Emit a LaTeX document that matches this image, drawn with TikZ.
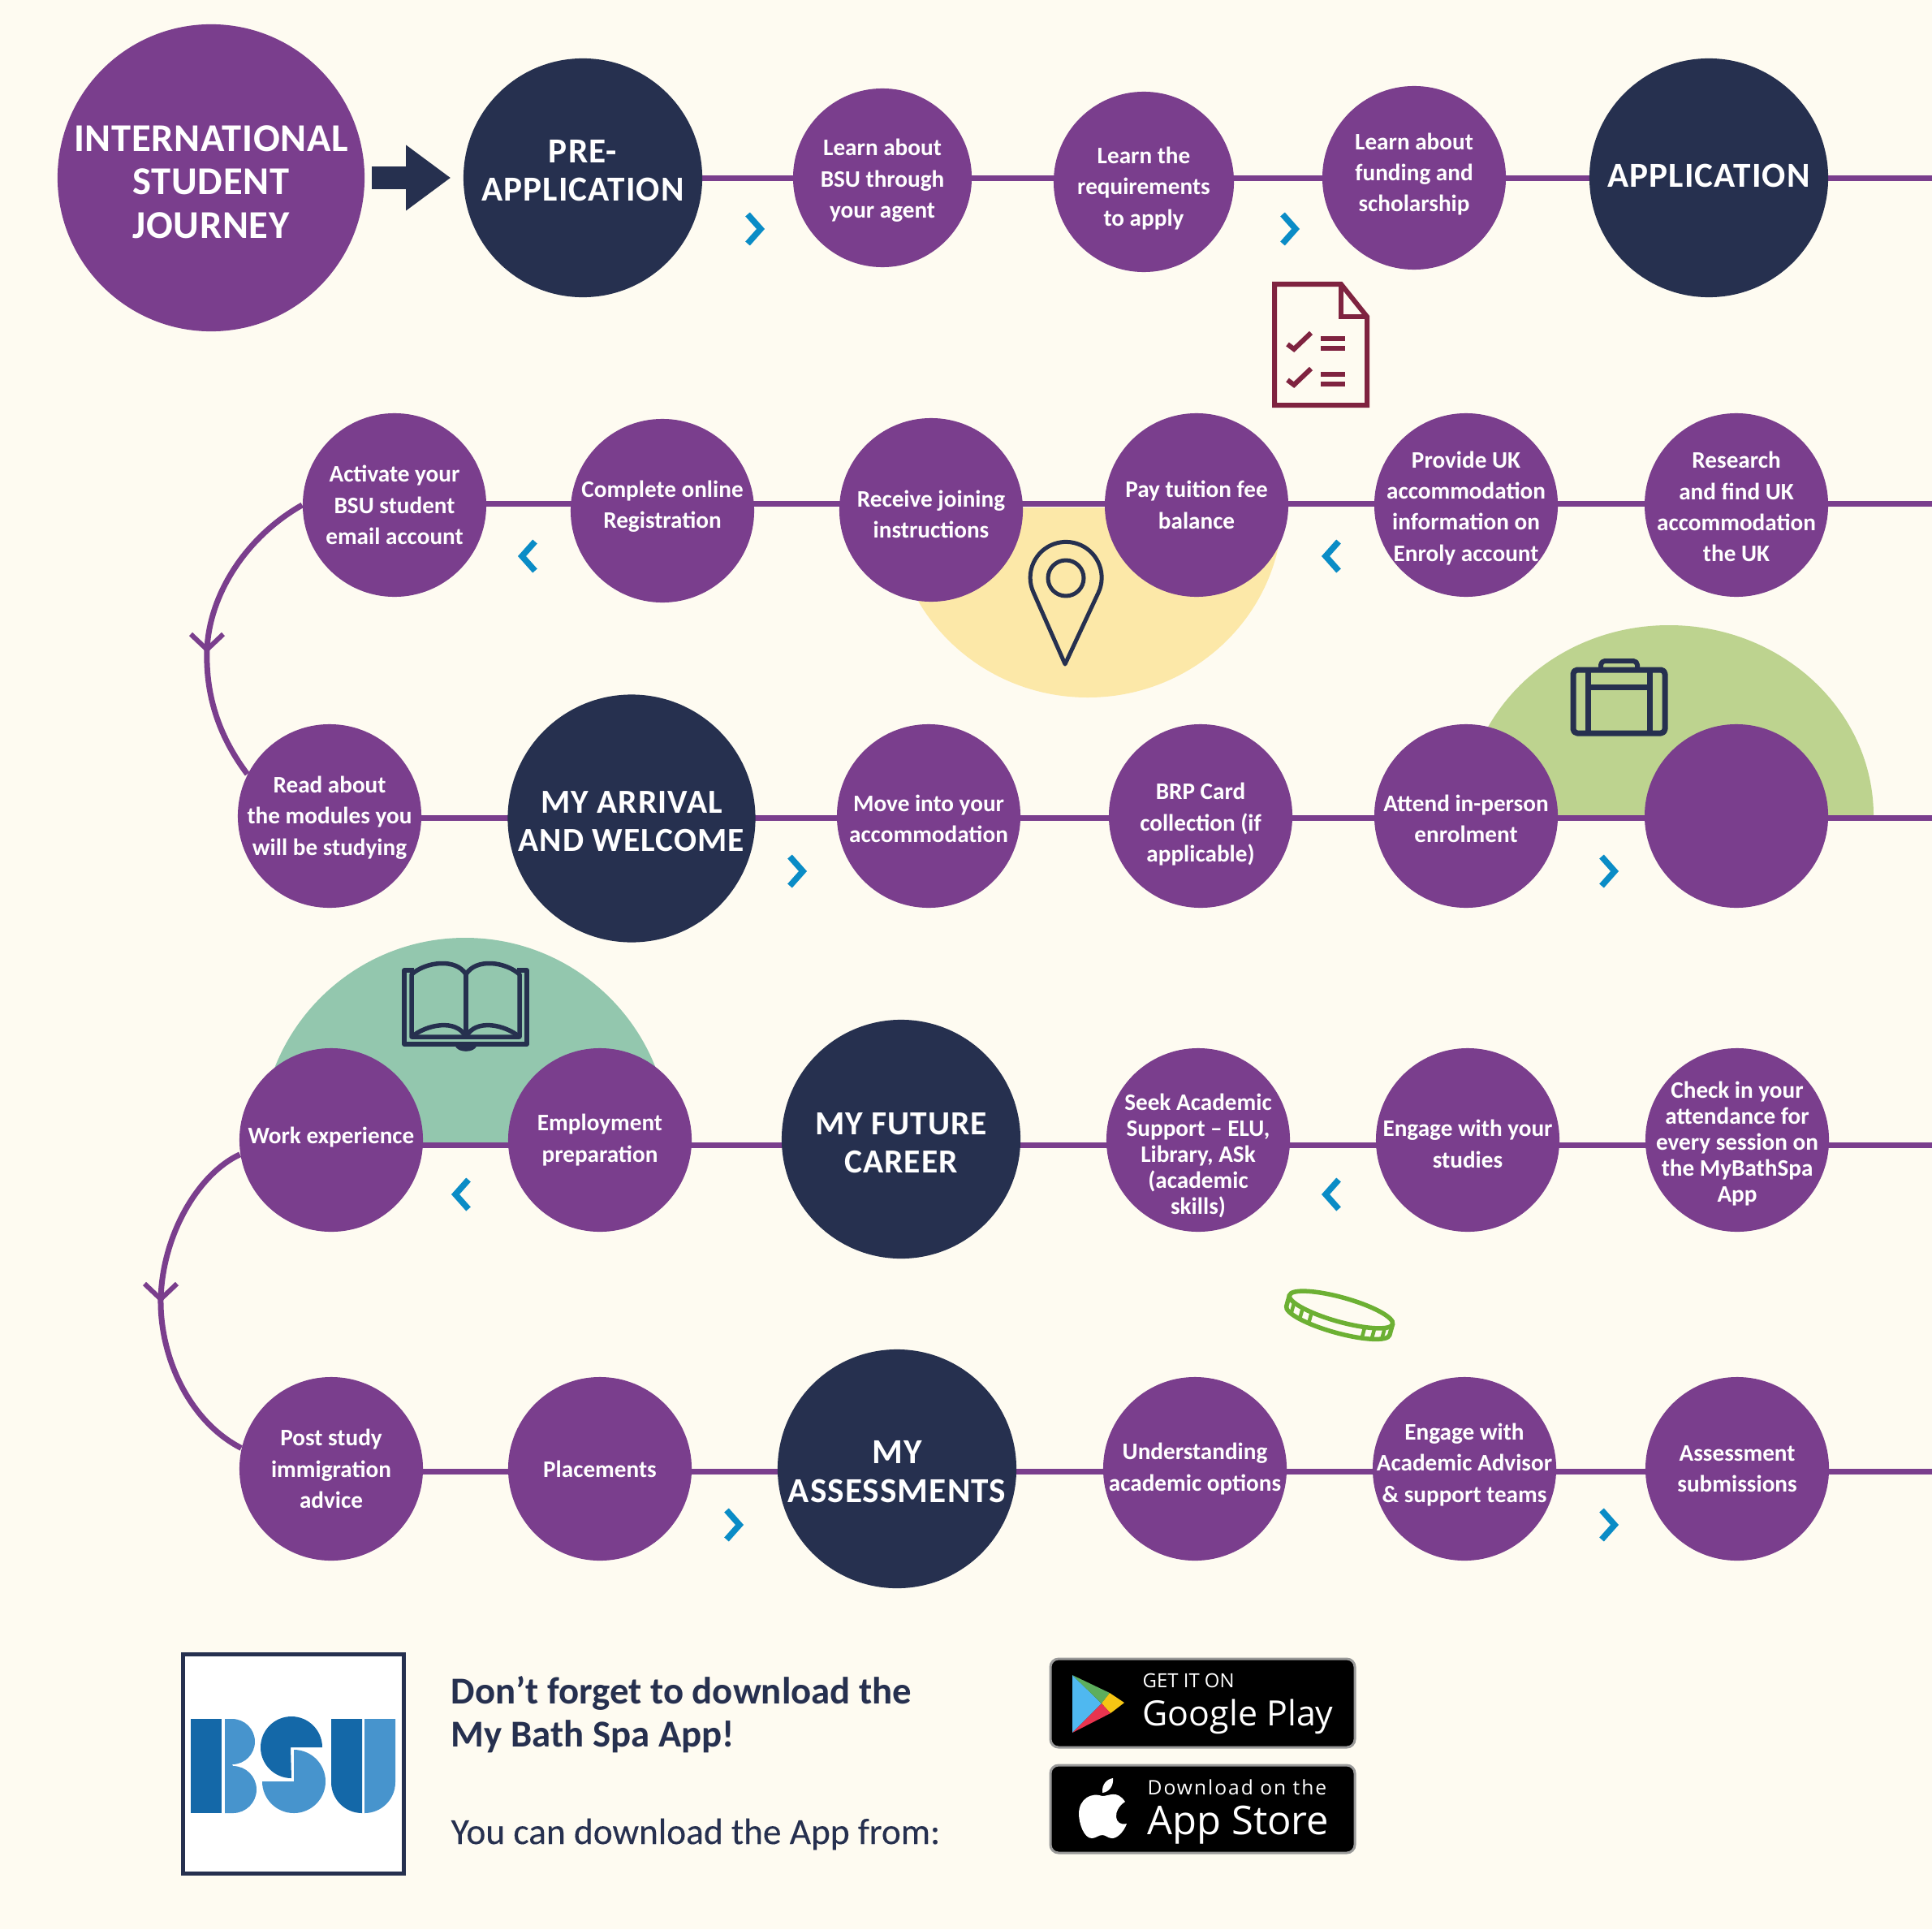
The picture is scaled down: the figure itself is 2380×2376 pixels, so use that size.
\documentclass[tikz,border=0pt]{standalone}
\usepackage{fontspec}
\setmainfont{Carlito}
\newfontfamily\badgefont{Open Sans}
\usetikzlibrary{arrows.meta}
\definecolor{paper}{HTML}{FEFBF1}
\definecolor{plum}{HTML}{7A3E8D}
\definecolor{navy}{HTML}{26304F}
\definecolor{chevblue}{HTML}{0A8CC6}
\definecolor{wine}{HTML}{7F2340}
\definecolor{coin}{HTML}{6CB033}
\definecolor{sand}{HTML}{FCE8A8}
\definecolor{leaf}{HTML}{BDD38F}
\definecolor{mint}{HTML}{93C7AE}
\definecolor{bsudark}{HTML}{1468A8}
\definecolor{bsulight}{HTML}{4794CD}
\definecolor{playblue}{HTML}{4FB8F0}
\definecolor{playgreen}{HTML}{5DAE5D}
\definecolor{playyellow}{HTML}{F6C614}
\definecolor{playred}{HTML}{E8344F}
\pgfdeclarelayer{back}
\pgfdeclarelayer{tracks}
\pgfsetlayers{back,tracks,main}
\newcommand{\padd}[1]{\rule[-#1]{0pt}{0pt}}
\newcommand{\padt}[1]{\rule{0pt}{#1}}
\begin{document}
\begin{tikzpicture}[x=0.01cm,y=-0.01cm,
    stopnode/.style={circle,fill=plum,text=white,inner sep=-0.5cm,minimum size=2.26cm,align=center,
      font=\fontsize{8.3pt}{10.9pt}\selectfont\bfseries},
    tightnode/.style={stopnode,font=\fontsize{8.3pt}{9.1pt}\selectfont\bfseries},
    headnode/.style={circle,fill=navy,text=white,inner sep=-0.5cm,minimum size=2.94cm,align=center,
      font=\fontsize{12.3pt}{13.4pt}\selectfont\bfseries\addfontfeatures{LetterSpace=2.5}},
    headsmall/.style={headnode,font=\fontsize{11.8pt}{13.4pt}\selectfont\bfseries\addfontfeatures{LetterSpace=2.5}},
    track/.style={draw=plum,line width=0.07cm},
    icon/.style={draw=navy,line width=0.055cm,line join=round},
    chev/.style={draw=chevblue,line width=0.075cm},
    chevr/.pic={\draw[chev] (-8,-18) -- (8,0) -- (-8,18);},
    chevl/.pic={\draw[chev] (8,-18) -- (-8,0) -- (8,18);},
    barb/.pic={\draw[track,line width=0.06cm] (-20,-19) -- (0,0) -- (20,-19);},
    apptext/.style={text=navy,anchor=west,align=left,inner sep=0pt,font=\fontsize{13.3pt}{15pt}\selectfont\bfseries},
    badge/.style={fill=black,draw=black!40,line width=0.03cm,rounded corners=0.1cm}]
    \useasboundingbox (0,0) rectangle (2380,2376);
    % free ends of the rows
    \coordinate (rowa) at (2380,220);
    \coordinate (rowb) at (2380,620);
    \coordinate (rowc) at (2380,1007);
    \coordinate (rowd) at (2380,1410);
    \coordinate (rowe) at (2380,1812);
    \coordinate (tipb) at (255,800);
    \coordinate (tipd) at (198,1600);
    % first row
    \node[headnode,fill=plum,minimum size=3.78cm,font=\fontsize{13.8pt}{15.1pt}\selectfont\bfseries\addfontfeatures{LetterSpace=1.5}] (intl) at (260,219) {\padt{12pt}INTERNATIONAL\\STUDENT\\JOURNEY};
    \node[headnode] (pre) at (718,219) {PRE-\\APPLICATION\padd{5pt}};
    \node[stopnode,minimum size=2.2cm] (agent) at (1087,219) {\padt{7.7pt}Learn about\\BSU through\\your agent};
    \node[stopnode,minimum size=2.22cm] (reqs) at (1409,224) {\padt{10.3pt}Learn the\\requirements\\to apply};
    \node[stopnode] (funding) at (1742,219) {Learn about\\funding and\\scholarship\padd{3.8pt}};
    \node[headnode] (appl) at (2105,219) {APPLICATION\padd{1.7pt}};
    % second row
    \node[stopnode] (activate) at (486,622) {Activate your\\BSU student\\email account};
    \node[stopnode] (complete) at (816,629) {Complete online\\Registration\padd{4.3pt}};
    \node[stopnode] (joining) at (1147,628) {\padt{9pt}Receive joining\\instructions};
    \node[stopnode] (tuition) at (1474,622) {Pay tuition fee\\balance};
    \node[stopnode] (provide) at (1806,622) {\padt{8pt}Provide UK\\accommodation\\information on\\Enroly account};
    \node[stopnode] (research) at (2139,622) {\padt{7pt}Research\\and find UK\\accommodation\\the UK};
    % third row
    \node[stopnode] (readmod) at (406,1005) {\padt{7pt}Read about\\the modules you\\will be studying};
    \node[headsmall,minimum size=3.05cm] (arrival) at (778,1008) {\padt{9.7pt}MY ARRIVAL\\AND WELCOME};
    \node[stopnode] (moveinto) at (1144,1005) {\padt{7.7pt}Move into your\\accommodation};
    \node[stopnode] (brp) at (1479,1005) {\padt{11.6pt}BRP Card\\collection (if\\applicable)};
    \node[stopnode] (attend) at (1806,1005) {\padt{7.7pt}Attend in-person\\enrolment};
    \node[stopnode] (blank) at (2139,1005) {};
    % fourth row
    \node[stopnode] (workexp) at (408,1404) {Work experience\padd{3.4pt}};
    \node[stopnode] (employ) at (739,1404) {Employment\\preparation};
    \node[headsmall] (future) at (1110,1403) {\padt{10.5pt}MY FUTURE\\CAREER};
    \node[tightnode] (seek) at (1476,1404) {\padt{16.8pt}Seek Academic\\Support -- ELU,\\Library, ASk\\(academic\\skills)};
    \node[stopnode] (studies) at (1808,1404) {\padt{8.6pt}Engage with your\\studies};
    \node[tightnode] (checkin) at (2140,1404) {\padt{8.2pt}Check in your\\attendance for\\every session on\\the MyBathSpa\\App};
    % fifth row
    \node[stopnode] (postvisa) at (408,1809) {Post study\\immigration\\advice};
    \node[stopnode] (placements) at (739,1809) {Placements};
    \node[headnode] (assess) at (1105,1809) {\padt{10pt}MY\\ASSESSMENTS};
    \node[stopnode] (options) at (1472,1809) {Understanding\\academic options};
    \node[stopnode] (advisor) at (1804,1809) {Engage with\\Academic Advisor\\\& support teams\padd{4.2pt}};
    \node[stopnode] (submit) at (2140,1809) {Assessment\\submissions};
    % blobs behind the rows
    \begin{pgfonlayer}{back}
    \fill[paper] (0,0) rectangle (2380,2376);
    \fill[sand] (1100,625) arc[start angle=180,end angle=0,x radius=240,y radius=234] -- cycle;
    \fill[leaf] (1804,1005) arc[start angle=180,end angle=360,x radius=252,y radius=235] -- cycle;
    \fill[mint] (321,1407) arc[start angle=180,end angle=360,x radius=252,y radius=252] -- cycle;
    \end{pgfonlayer}
    % rows and the two bends
    \begin{pgfonlayer}{tracks}
    \foreach \a/\b/\t in {pre/agent/rowa,agent/reqs/rowa,reqs/funding/rowa,funding/appl/rowa,
      activate/complete/rowb,complete/joining/rowb,joining/tuition/rowb,tuition/provide/rowb,provide/research/rowb,
      readmod/arrival/rowc,arrival/moveinto/rowc,moveinto/brp/rowc,brp/attend/rowc,attend/blank/rowc,
      workexp/employ/rowd,employ/future/rowd,future/seek/rowd,seek/studies/rowd,studies/checkin/rowd,
      postvisa/placements/rowe,placements/assess/rowe,assess/options/rowe,options/advisor/rowe,advisor/submit/rowe}
      \draw[track] (\a |- \t) -- (\b |- \t);
    \foreach \a/\t in {appl/rowa,research/rowb,blank/rowc,checkin/rowd,submit/rowe}
      \draw[track] (\a |- \t) -- (\t);
    \draw[track] (activate.west) .. controls (305,660) and (258,730) .. (tipb)
      .. controls (253,860) and (272,910) .. (readmod.153);
    \draw[track] (workexp.189) .. controls (245,1445) and (200,1520) .. (tipd)
      .. controls (197,1670) and (232,1750) .. (postvisa.167);
    \end{pgfonlayer}
    \pic at (tipb) {barb};
    \pic at (tipd) {barb};
    \draw[navy,line width=0.27cm,shorten <=0.08cm,shorten >=0.15cm,
      -{Triangle[length=0.55cm,width=0.77cm]}] (intl) -- (pre);
    % chevrons
    \foreach \p in {(929,282),(1588,282),(981,1073),(1981,1073),(903,1878),(1981,1878)}
      \pic at \p {chevr};
    \foreach \p in {(651,685),(1641,685),(569,1471),(1641,1471)}
      \pic at \p {chevl};
    % document
    \draw[wine,line width=0.06cm,line join=miter] (1652,350) -- (1570,350) -- (1570,499) -- (1684,499) -- (1684,390) -- cycle;
    \draw[wine,line width=0.06cm] (1652,350) -- (1652,390) -- (1684,390);
    \foreach \d in {0,44}{
      \draw[wine,line width=0.06cm] (1586,424+\d) -- (1594,430+\d) -- (1615,410+\d);
      \draw[wine,line width=0.06cm] (1627,417+\d) -- (1657,417+\d) (1627,429+\d) -- (1657,429+\d);
    }
    % pin
    \draw[icon,line width=0.05cm] (1312,818) -- (1353,730) arc[start angle=25,end angle=-205,radius=44] -- cycle;
    \draw[icon,line width=0.05cm] (1313,712) circle[radius=22];
    % suitcase
    \draw[icon,line width=0.07cm,rounded corners=0.05cm] (1938,825) rectangle (2051,903);
    \draw[icon,line width=0.07cm] (1956,825) -- (1956,903) (2032,825) -- (2032,903) (1956,846) -- (2032,846);
    \draw[icon,line width=0.06cm,rounded corners=0.05cm] (1972,822) -- (1972,814) -- (2017,814) -- (2017,822);
    % book
    \draw[icon] (510,1195) -- (498,1195) -- (498,1286) -- (649,1286) -- (649,1195) -- (637,1195);
    \draw[icon] (507,1277) -- (507,1200) .. controls (525,1184) and (562,1180) .. (574,1200) .. controls (586,1180) and (622,1184) .. (640,1200) -- (640,1277) -- cycle;
    \draw[icon] (574,1200) -- (574,1277);
    \draw[icon] (507,1277) .. controls (525,1262) and (562,1254) .. (574,1277) .. controls (586,1254) and (622,1262) .. (640,1277);
    \draw[icon] (563,1286) .. controls (564,1294) and (584,1294) .. (585,1286);
    % coin
    \begin{scope}[shift={(1652,1613)},rotate=-15.6]
    \draw[coin,line width=0.055cm] (0,0) circle[x radius=66,y radius=15];
    \draw[coin,line width=0.055cm] (-66,0) -- (-66,14) arc[start angle=180,end angle=0,x radius=66,y radius=15] -- (66,0);
    \foreach \x in {-58,-46,-34,34,46,58}
      \draw[coin,line width=0.045cm] (\x,{15*sqrt(1-(\x/66)^2)}) -- ++(0,14);
    \end{scope}
    % logo
    \draw[navy,fill=white,line width=0.05cm] (225,2037) rectangle (497,2307);
    \fill[bsudark] (235,2117) rectangle (273,2233);
    \fill[bsulight] (277,2117) -- (286,2117) arc[start angle=-90,end angle=90,radius=28] -- (287,2175) arc[start angle=-90,end angle=90,radius=29] -- (277,2233) -- cycle;
    \fill[bsudark] (397,2152) arc[start angle=0,end angle=-270,radius=38] -- (358,2152) -- cycle;
    \fill[bsulight] (362,2155) arc[start angle=-90,end angle=180,radius=39] -- (362,2194) -- cycle;
    \fill[bsudark] (408,2117) -- (446,2117) -- (446,2233) arc[start angle=90,end angle=180,radius=38] -- cycle;
    \fill[bsulight] (449,2117) -- (487,2117) -- (487,2195) arc[start angle=0,end angle=90,radius=38] -- cycle;
    % download text
    \node[apptext] (remind) at (555,2112) {Don’t forget to download the\\My Bath Spa App!};
    \node[apptext,font=\fontsize{12.9pt}{15pt}\selectfont\addfontfeatures{FakeBold=0.25}] (appfrom) at (555,2259) {You can download the App from:};
    % badges
    \draw[badge] (1294,2043) rectangle (1669,2152);
    \draw[badge] (1294,2174) rectangle (1669,2282);
    \fill[playblue] (1321,2063) -- (1357,2098) -- (1321,2134) -- cycle;
    \fill[playgreen] (1321,2063) -- (1367,2085) -- (1357,2098) -- cycle;
    \fill[playyellow] (1367,2085) -- (1385,2097) -- (1368,2110) -- (1357,2098) -- cycle;
    \fill[playred] (1321,2134) -- (1357,2098) -- (1368,2110) -- cycle;
    \node[anchor=west,text=white,inner sep=0pt,font=\badgefont\fontsize{6.8pt}{8pt}\selectfont] (geton) at (1407,2070) {GET IT ON};
    \node[anchor=west,text=white,inner sep=0pt,font=\badgefont\fontsize{12.2pt}{15pt}\selectfont] (gplay) at (1407,2114) {Google Play};
    \fill[white] (1358,2212) .. controls (1366,2212) and (1376,2204) .. (1386,2219)
      .. controls (1370,2229) and (1372,2250) .. (1388,2246)
      .. controls (1384,2257) and (1376,2264) .. (1370,2264)
      .. controls (1365,2264) and (1362,2260) .. (1358,2260)
      .. controls (1353,2260) and (1350,2264) .. (1345,2264)
      .. controls (1335,2264) and (1329,2245) .. (1329,2234)
      .. controls (1329,2215) and (1345,2207) .. (1358,2212) -- cycle;
    \fill[white] (1358,2208) .. controls (1357,2197) and (1364,2191) .. (1371,2190) .. controls (1372,2200) and (1366,2207) .. (1358,2208) -- cycle;
    \node[anchor=west,text=white,inner sep=0pt,font=\badgefont\fontsize{7pt}{8pt}\selectfont\addfontfeatures{LetterSpace=8}] (dlon) at (1413,2201) {Download on the};
    \node[anchor=west,text=white,inner sep=0pt,font=\badgefont\fontsize{13.9pt}{16pt}\selectfont] (store) at (1413,2248) {App Store};
    \end{tikzpicture}
\end{document}
